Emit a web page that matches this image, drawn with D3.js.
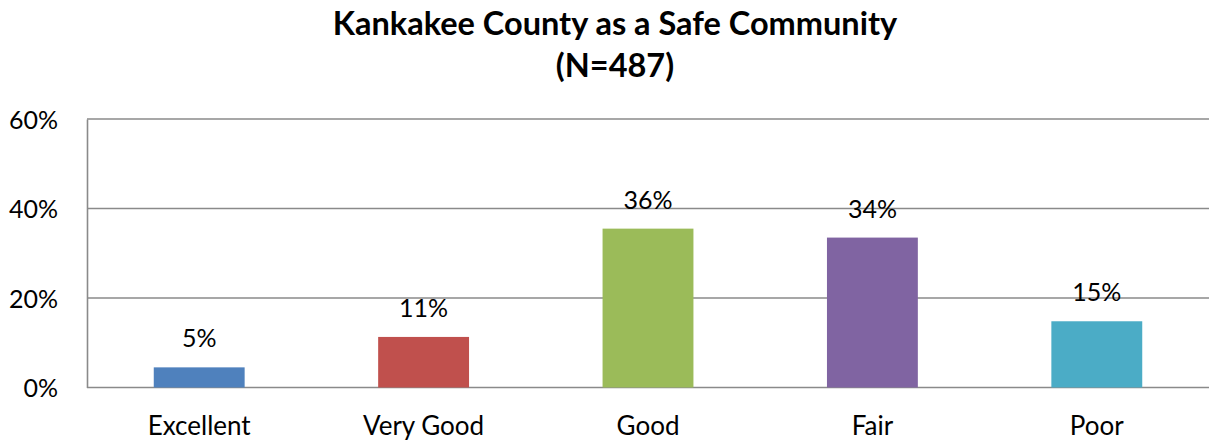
<!DOCTYPE html>
<html>
<head>
<meta charset="utf-8">
<script src="https://cdn.jsdelivr.net/npm/d3@7"></script>
<style>
  html, body { margin: 0; padding: 0; background: #fff; }
  svg { display: block; font-family: Lato, "Open Sans", sans-serif; }
</style>
</head>
<body>
<svg id="chart" width="1210" height="442"></svg>
<script>
// Survey responses: rating of Kankakee County as a safe community
const categories = ["Excellent", "Very Good", "Good", "Fair", "Poor"];
const percentages = [4.5, 11.3, 35.5, 33.5, 14.8];
const barColors = ["#4F81BD", "#C0504D", "#9BBB59", "#8064A2", "#4BACC6"];
const yTicks = [0, 20, 40, 60];
const titleLines = ["Kankakee County as a Safe Community", "(N=487)"];

const svg = d3.select("#chart");
const plot = { left: 87, right: 1209, top: 119, bottom: 387.5 };

const x = d3.scaleBand()
  .domain(categories)
  .range([plot.left, plot.right])
  .paddingInner(0.595)
  .paddingOuter(0.2975);

const y = d3.scaleLinear()
  .domain([0, 60])
  .range([plot.bottom, plot.top]);

// Title
svg.append("g")
  .selectAll("text")
  .data(titleLines)
  .join("text")
  .attr("x", 615)
  .attr("y", (d, i) => 35 + i * 41.5)
  .attr("text-anchor", "middle")
  .attr("font-weight", "bold")
  .attr("font-size", 32.5)
  .attr("fill", "#000")
  .text(d => d);

// Horizontal gridlines
svg.append("g")
  .selectAll("line")
  .data(yTicks)
  .join("line")
  .attr("x1", plot.left)
  .attr("x2", plot.right)
  .attr("y1", d => y(d))
  .attr("y2", d => y(d))
  .attr("stroke", "#8a8a8a")
  .attr("stroke-width", 1.6);

// Vertical value axis
const yAxis = svg.append("g")
  .attr("transform", `translate(${plot.left},0)`)
  .call(d3.axisLeft(y).tickValues(yTicks).tickSize(0).tickPadding(29).tickFormat(d => d + "%"));
yAxis.select(".domain").attr("stroke", "#8a8a8a").attr("stroke-width", 1.6);
yAxis.selectAll("text")
  .attr("font-family", "Lato, 'Open Sans', sans-serif")
  .attr("font-size", 25)
  .attr("fill", "#000")
  .attr("dy", "0.36em");

// Category axis labels
const xAxis = svg.append("g")
  .attr("transform", `translate(0,${plot.bottom})`)
  .call(d3.axisBottom(x).tickSize(0).tickPadding(29));
xAxis.select(".domain").remove();
xAxis.selectAll("text")
  .attr("font-family", "Lato, 'Open Sans', sans-serif")
  .attr("font-size", 26)
  .attr("fill", "#000");

// Bars
svg.append("g")
  .selectAll("rect")
  .data(categories)
  .join("rect")
  .attr("x", d => x(d))
  .attr("width", x.bandwidth())
  .attr("y", (d, i) => y(percentages[i]))
  .attr("height", (d, i) => y(0) - y(percentages[i]))
  .attr("fill", (d, i) => barColors[i]);

// Value labels above bars
svg.append("g")
  .selectAll("text")
  .data(categories)
  .join("text")
  .attr("x", d => x(d) + x.bandwidth() / 2)
  .attr("y", (d, i) => y(percentages[i]) - 20)
  .attr("text-anchor", "middle")
  .attr("font-size", 25)
  .attr("fill", "#000")
  .text((d, i) => Math.round(percentages[i]) + "%");
</script>
</body>
</html>
